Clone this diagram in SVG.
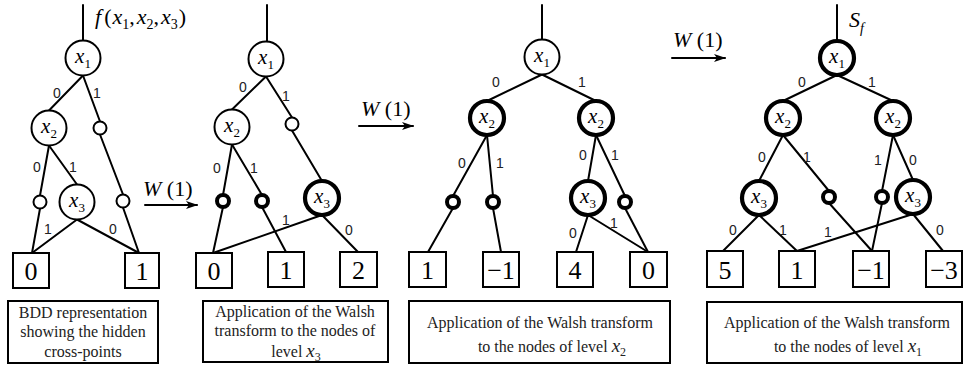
<svg xmlns="http://www.w3.org/2000/svg" width="964" height="365" viewBox="0 0 964 365">
  <style>
    .e { stroke:#000; stroke-width:2; fill:none; stroke-linecap:round }
    .n { fill:#fff; stroke:#000; stroke-width:2 }
    .nb { fill:#fff; stroke:#000; stroke-width:4.2 }
    .s { fill:#fff; stroke:#000; stroke-width:2 }
    .sb { fill:#fff; stroke:#000; stroke-width:4 }
    .box { fill:#fff; stroke:#000; stroke-width:2 }
    .lbl { font-family:"Liberation Sans", Arial, sans-serif; font-size:14px; text-anchor:middle; fill:#222 }
    .var { font-family:"Liberation Serif", "Times New Roman", serif; font-size:21px; font-style:italic; text-anchor:middle }
    .sub { font-style:normal; font-size:13px }
    .num { font-family:"Liberation Serif", "Times New Roman", serif; font-size:26px; text-anchor:middle }
    .cap { font-family:"Liberation Serif", "Times New Roman", serif; font-size:16px; text-anchor:middle; fill:#222 }
    .capx { font-style:italic; font-size:19px }
    .capsub { font-style:normal; font-size:12px }
    .w { font-family:"Liberation Serif", "Times New Roman", serif; font-size:22px }
  </style>
  <defs>
    <marker id="ah" markerWidth="12" markerHeight="8" refX="11" refY="4" orient="auto" markerUnits="userSpaceOnUse">
      <path d="M0,0 L12,4 L0,8 L3,4 Z" fill="#000"/>
    </marker>
  </defs>

  <!-- connectors -->
  <g id="connectors" class="e">
    <!-- panel 1 -->
    <path d="M83,5 V40.5"/>
    <path d="M83,75.5 L49,110.5"/>
    <path d="M83,75.5 L100,121.5"/>
    <path d="M49,145.5 L40,195.5"/>
    <path d="M49,145.5 L77,184.5"/>
    <path d="M100,134.5 L123,194.5"/>
    <path d="M40,208.5 L32,253"/>
    <path d="M77,219.5 L32,253"/>
    <path d="M77,219.5 L139,253"/>
    <path d="M123,207.5 L139,253"/>
    <!-- panel 2 -->
    <path d="M267,5 V41.5"/>
    <path d="M266,76.5 L232,109.5"/>
    <path d="M266,76.5 L292,117.5"/>
    <path d="M232,144.5 L223,195"/>
    <path d="M232,144.5 L262,195"/>
    <path d="M292,130.5 L322,181"/>
    <path d="M223,207 L213,253"/>
    <path d="M262,207 L286,252"/>
    <path d="M322,215 L213,253"/>
    <path d="M322,215 L358,252"/>
    <!-- panel 3 -->
    <path d="M542,5 V39.5"/>
    <path d="M542,74.5 L487,101"/>
    <path d="M542,74.5 L596,101"/>
    <path d="M487,135 L453,196"/>
    <path d="M487,135 L493,196"/>
    <path d="M596,135 L588,181"/>
    <path d="M596,135 L625,196"/>
    <path d="M453,208 L428,252"/>
    <path d="M493,208 L501,252"/>
    <path d="M588,215 L576,252"/>
    <path d="M588,215 L648,252"/>
    <path d="M625,208 L648,252"/>
    <!-- panel 4 -->
    <path d="M837,5 V41"/>
    <path d="M837,75 L783,101"/>
    <path d="M837,75 L893,101"/>
    <path d="M783,135 L759,181"/>
    <path d="M783,135 L829,191"/>
    <path d="M893,135 L882,191"/>
    <path d="M893,135 L913,180"/>
    <path d="M759,215 L723,251"/>
    <path d="M759,215 L797,251"/>
    <path d="M913,214 L797,251"/>
    <path d="M913,214 L943,251"/>
    <path d="M829,203 L872,251"/>
    <path d="M882,203 L872,251"/>
    <!-- transform arrows -->
    <path d="M145,205 H197" marker-end="url(#ah)"/>
    <path d="M359,126 H413" marker-end="url(#ah)"/>
    <path d="M672,58 H725" marker-end="url(#ah)"/>
  </g>

  <!-- edge labels -->
  <g id="edge-labels" class="lbl">
    <text x="57" y="98">0</text><text x="97" y="98">1</text>
    <text x="37" y="172">0</text><text x="73" y="172">1</text>
    <text x="48" y="234">1</text><text x="113" y="234">0</text>

    <text x="243" y="92">0</text><text x="286" y="101">1</text>
    <text x="217" y="173">0</text><text x="254" y="173">1</text>
    <text x="286" y="225">1</text><text x="349" y="235">0</text>

    <text x="496" y="87">0</text><text x="582" y="87">1</text>
    <text x="462" y="168">0</text><text x="500" y="168">1</text>
    <text x="583" y="160">0</text><text x="615" y="160">1</text>
    <text x="573" y="238">0</text><text x="614" y="228">1</text>

    <text x="802" y="87">0</text><text x="872" y="87">1</text>
    <text x="762" y="162">0</text><text x="807" y="162">1</text>
    <text x="878" y="165">1</text><text x="913" y="165">0</text>
    <text x="733" y="235">0</text><text x="783" y="235">1</text>
    <text x="828" y="237">1</text><text x="940" y="235">0</text>
  </g>

  <!-- transform labels -->
  <g id="transform-labels" class="w">
    <text x="143" y="196"><tspan font-style="italic">W</tspan> (1)</text>
    <text x="361" y="116"><tspan font-style="italic">W</tspan> (1)</text>
    <text x="673" y="47"><tspan font-style="italic">W</tspan> (1)</text>
  </g>

  <!-- function names -->
  <text id="f-label" x="95" y="24" class="w" font-size="23"><tspan font-style="italic">f</tspan><tspan dx="3">(</tspan><tspan font-style="italic" dx="1">x</tspan><tspan font-size="14" dy="5">1</tspan><tspan dy="-5">,</tspan><tspan font-style="italic" dx="2">x</tspan><tspan font-size="14" dy="5">2</tspan><tspan dy="-5">,</tspan><tspan font-style="italic" dx="2">x</tspan><tspan font-size="14" dy="5">3</tspan><tspan dy="-5" dx="1">)</tspan></text>
  <text id="s-label" x="849" y="27" class="w"><tspan font-style="italic">S</tspan><tspan font-style="italic" font-size="14" dy="6">f</tspan></text>

  <!-- panel 1 nodes -->
  <g id="p1-x1"><circle class="n" cx="83" cy="58" r="17.5"/><text class="var" x="83" y="63">x<tspan class="sub" dy="5">1</tspan></text></g>
  <g id="p1-x2"><circle class="n" cx="49" cy="128" r="17.5"/><text class="var" x="49" y="133">x<tspan class="sub" dy="5">2</tspan></text></g>
  <g id="p1-c1"><circle class="s" cx="100" cy="128" r="6.5"/></g>
  <g id="p1-c2"><circle class="s" cx="40" cy="202" r="6.5"/></g>
  <g id="p1-x3"><circle class="n" cx="77" cy="202" r="17.5"/><text class="var" x="77" y="207">x<tspan class="sub" dy="5">3</tspan></text></g>
  <g id="p1-c3"><circle class="s" cx="123" cy="201" r="6.5"/></g>
  <g id="p1-t0"><rect class="box" x="13" y="253" width="36" height="35"/><text class="num" x="31" y="280">0</text></g>
  <g id="p1-t1"><rect class="box" x="125" y="253" width="34" height="35"/><text class="num" x="142" y="280">1</text></g>
  <g id="p1-caption"><rect class="box" x="8" y="301" width="150" height="62"/>
    <text class="cap" x="83" y="318">BDD representation</text>
    <text class="cap" x="83" y="337">showing the hidden</text>
    <text class="cap" x="83" y="357">cross-points</text></g>

  <!-- panel 2 nodes -->
  <g id="p2-x1"><circle class="n" cx="266" cy="59" r="17.5"/><text class="var" x="266" y="64">x<tspan class="sub" dy="5">1</tspan></text></g>
  <g id="p2-x2"><circle class="n" cx="232" cy="127" r="17.5"/><text class="var" x="232" y="132">x<tspan class="sub" dy="5">2</tspan></text></g>
  <g id="p2-c1"><circle class="s" cx="292" cy="124" r="6.5"/></g>
  <g id="p2-c2"><circle class="sb" cx="223" cy="201" r="6"/></g>
  <g id="p2-c3"><circle class="sb" cx="262" cy="201" r="6"/></g>
  <g id="p2-x3"><circle class="nb" cx="322" cy="198" r="17"/><text class="var" x="322" y="203">x<tspan class="sub" dy="5">3</tspan></text></g>
  <g id="p2-t0"><rect class="box" x="196" y="253" width="36" height="35"/><text class="num" x="214" y="280">0</text></g>
  <g id="p2-t1"><rect class="box" x="268" y="252" width="36" height="35"/><text class="num" x="286" y="279">1</text></g>
  <g id="p2-t2"><rect class="box" x="340" y="252" width="37" height="35"/><text class="num" x="358.5" y="279">2</text></g>
  <g id="p2-caption"><rect class="box" x="203" y="301" width="185" height="61"/>
    <text class="cap" x="295" y="317">Application of the Walsh</text>
    <text class="cap" x="295" y="336">transform to the nodes of</text>
    <text class="cap" x="296" y="357">level <tspan class="capx">x</tspan><tspan class="capsub" dy="4">3</tspan></text></g>

  <!-- panel 3 nodes -->
  <g id="p3-x1"><circle class="n" cx="542" cy="57" r="17.5"/><text class="var" x="542" y="62">x<tspan class="sub" dy="5">1</tspan></text></g>
  <g id="p3-x2a"><circle class="nb" cx="487" cy="118" r="17"/><text class="var" x="487" y="123">x<tspan class="sub" dy="5">2</tspan></text></g>
  <g id="p3-x2b"><circle class="nb" cx="596" cy="118" r="17"/><text class="var" x="596" y="123">x<tspan class="sub" dy="5">2</tspan></text></g>
  <g id="p3-c1"><circle class="sb" cx="453" cy="202" r="6"/></g>
  <g id="p3-c2"><circle class="sb" cx="493" cy="202" r="6"/></g>
  <g id="p3-x3"><circle class="nb" cx="588" cy="198" r="17"/><text class="var" x="588" y="203">x<tspan class="sub" dy="5">3</tspan></text></g>
  <g id="p3-c3"><circle class="sb" cx="625" cy="202" r="6"/></g>
  <g id="p3-t0"><rect class="box" x="409" y="252" width="37" height="35"/><text class="num" x="427.5" y="279">1</text></g>
  <g id="p3-t1"><rect class="box" x="483" y="252" width="36" height="35"/><text class="num" x="501" y="279">−1</text></g>
  <g id="p3-t2"><rect class="box" x="557" y="252" width="36" height="35"/><text class="num" x="575" y="279">4</text></g>
  <g id="p3-t3"><rect class="box" x="630" y="252" width="37" height="35"/><text class="num" x="648.5" y="279">0</text></g>
  <g id="p3-caption"><rect class="box" x="409" y="301" width="261" height="62"/>
    <text class="cap" x="540" y="328">Application of the Walsh transform</text>
    <text class="cap" x="552" y="352">to the nodes of level <tspan class="capx">x</tspan><tspan class="capsub" dy="4">2</tspan></text></g>

  <!-- panel 4 nodes -->
  <g id="p4-x1"><circle class="nb" cx="837" cy="58" r="17"/><text class="var" x="837" y="63">x<tspan class="sub" dy="5">1</tspan></text></g>
  <g id="p4-x2a"><circle class="nb" cx="783" cy="118" r="17"/><text class="var" x="783" y="123">x<tspan class="sub" dy="5">2</tspan></text></g>
  <g id="p4-x2b"><circle class="nb" cx="893" cy="118" r="17"/><text class="var" x="893" y="123">x<tspan class="sub" dy="5">2</tspan></text></g>
  <g id="p4-x3a"><circle class="nb" cx="759" cy="198" r="17"/><text class="var" x="759" y="203">x<tspan class="sub" dy="5">3</tspan></text></g>
  <g id="p4-c1"><circle class="sb" cx="829" cy="197" r="6"/></g>
  <g id="p4-c2"><circle class="sb" cx="882" cy="197" r="6"/></g>
  <g id="p4-x3b"><circle class="nb" cx="913" cy="197" r="17"/><text class="var" x="913" y="202">x<tspan class="sub" dy="5">3</tspan></text></g>
  <g id="p4-t0"><rect class="box" x="707" y="251" width="36" height="36"/><text class="num" x="725" y="279">5</text></g>
  <g id="p4-t1"><rect class="box" x="779" y="251" width="36" height="36"/><text class="num" x="797" y="279">1</text></g>
  <g id="p4-t2"><rect class="box" x="853" y="251" width="36" height="36"/><text class="num" x="871" y="279">−1</text></g>
  <g id="p4-t3"><rect class="box" x="926" y="251" width="36" height="36"/><text class="num" x="944" y="279">−3</text></g>
  <g id="p4-caption"><rect class="box" x="707" y="302" width="255" height="61"/>
    <text class="cap" x="837" y="328">Application of the Walsh transform</text>
    <text class="cap" x="848" y="352">to the nodes of level <tspan class="capx">x</tspan><tspan class="capsub" dy="4">1</tspan></text></g>
</svg>
